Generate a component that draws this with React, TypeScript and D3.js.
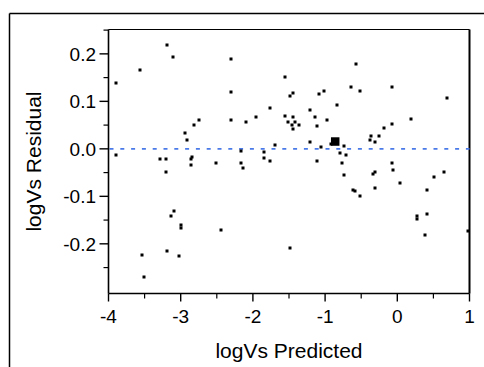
import React from "react";
import * as d3 from "d3";

const predicted = [
  -3.89, -3.89, -3.56, -3.19, -3.11, -3.29, -3.21, -3.21, -2.94, -2.91,
  -2.81, -2.74, -2.86, -2.84, -2.86, -2.51, -2.31, -2.31, -2.31, -2.16,
  -2.16, -2.14, -2.09, -1.96, -1.84, -1.84, -1.77, -1.77, -1.69, -1.56,
  -1.56, -1.44, -1.49, -1.44, -1.51, -1.46, -1.41, -1.36, -1.44, -1.21,
  -1.14, -1.09, -1.01, -1.11, -0.98, -1.21, -1.06, -0.84, -0.57, -0.64,
  -0.51, -0.08, 0.69, 0.19, -0.08, -0.19, -0.26, -0.36, -0.38, -0.31,
  -0.92, -0.74, -0.79, -0.71, -1.11, -0.76, -0.74, -0.08, -0.06, -0.34,
  -0.31, 0.51, 0.64, -0.62, -0.59, -0.51, -0.31, 0.04, 0.41, 0.27,
  0.27, 0.41, 0.39, 0.98, -1.49, -3.14, -3.09, -2.99, -2.99, -2.44,
  -3.54, -3.51, -3.19, -3.02,
];
const residual = [
  0.138, -0.012, 0.167, 0.219, 0.193, -0.022, -0.022, -0.048, 0.033, 0.019,
  0.051, 0.06, -0.021, -0.018, -0.034, -0.029, 0.189, 0.119, 0.06, -0.004,
  -0.029, -0.041, 0.056, 0.067, -0.007, -0.019, 0.085, -0.026, 0.008, 0.152,
  0.07, 0.118, 0.111, 0.067, 0.056, 0.051, 0.056, 0.051, 0.041, 0.081,
  0.067, 0.115, 0.122, 0.048, 0.06, 0.015, 0.003, 0.093, 0.178, 0.13,
  0.122, 0.13, 0.107, 0.063, 0.052, 0.044, 0.026, 0.026, 0.018, 0.015,
  0.01, 0.007, -0.008, -0.012, -0.026, -0.03, -0.056, -0.03, -0.045, -0.053,
  -0.049, -0.06, -0.049, -0.086, -0.089, -0.1, -0.082, -0.071, -0.086, -0.141,
  -0.148, -0.138, -0.182, -0.174, -0.208, -0.141, -0.13, -0.16, -0.166, -0.171,
  -0.223, -0.27, -0.215, -0.226,
];
// one heavier marker
const bigPredicted = [-0.86];
const bigResidual = [0.0154];

const xTicks = [-4, -3, -2, -1, 0, 1];
const xTickLabels = ["-4", "-3", "-2", "-1", "0", "1"];
const xMinorTicks = [-3.5, -2.5, -1.5, -0.5, 0.5];
const yTicks = [0.2, 0.1, 0.0, -0.1, -0.2];
const yTickLabels = ["0.2", "0.1", "0.0", "-0.1", "-0.2"];
const yMinorTicks = [0.25, 0.15, 0.05, -0.05, -0.15, -0.25];

const xTitle = "logVs Predicted";
const yTitle = "logVs Residual";

export default function App() {
  const W = 484;
  const H = 367;
  const left = 108.5;
  const right = 469.5;
  const top = 29.5;
  const bottom = 293.5;
  const x = d3.scaleLinear().domain([-4, 1]).range([left, right]);
  const y = d3.scaleLinear().domain([-0.3046, 0.2513]).range([bottom, top]);
  const font = "Arial, 'Liberation Sans', Helvetica, sans-serif";
  const pts = predicted.map((p, i) => ({ p, r: residual[i] }));

  return (
    <svg
      width={W}
      height={H}
      style={{ position: "absolute", left: 0, top: 0, display: "block", background: "#fff" }}
    >
      <rect x={0} y={0} width={W} height={H} fill="#fff" />
      {/* outer frame */}
      <line x1={9.5} y1={13.5} x2={W} y2={13.5} stroke="#000" strokeWidth={1.5} />
      <line x1={9.5} y1={13.5} x2={9.5} y2={H} stroke="#000" strokeWidth={1.5} />

      {/* plot frame */}
      <line x1={left} y1={top} x2={right} y2={top} stroke="#000" strokeWidth={1} />
      <line x1={right} y1={top} x2={right} y2={bottom} stroke="#000" strokeWidth={2} />

      {/* zero reference */}
      <line
        x1={left + 1}
        x2={right}
        y1={y(0)}
        y2={y(0)}
        stroke="#4a7ae8"
        strokeWidth={1.8}
        strokeDasharray="4 6.8"
      />

      {/* points */}
      {pts.map((d, i) => (
        <rect
          key={i}
          x={Math.round(x(d.p)) - 1.5}
          y={Math.round(y(d.r)) - 1.5}
          width={3}
          height={3}
          fill="#000"
        />
      ))}
      {bigPredicted.map((p, i) => (
        <rect
          key={"b" + i}
          x={x(p) - 4.25}
          y={y(bigResidual[i]) - 4.25}
          width={8.5}
          height={8.5}
          fill="#000"
        />
      ))}

      {/* axes */}
      <line x1={left} y1={top} x2={left} y2={bottom} stroke="#000" strokeWidth={1.6} />
      <line x1={left} y1={bottom} x2={right} y2={bottom} stroke="#000" strokeWidth={1.6} />

      {xTicks.map((t, i) => (
        <g key={"xt" + i}>
          <line x1={x(t)} x2={x(t)} y1={bottom} y2={bottom + 8} stroke="#000" strokeWidth={1.4} />
          <text
            x={x(t)}
            y={323}
            textAnchor="middle"
            fontFamily={font}
            fontSize={19}
            fill="#000"
          >
            {xTickLabels[i]}
          </text>
        </g>
      ))}
      {xMinorTicks.map((t, i) => (
        <line key={"xm" + i} x1={x(t)} x2={x(t)} y1={bottom} y2={bottom + 5} stroke="#000" strokeWidth={1.2} />
      ))}
      {yTicks.map((t, i) => (
        <g key={"yt" + i}>
          <line x1={left - 9} x2={left} y1={y(t)} y2={y(t)} stroke="#000" strokeWidth={1.4} />
          <text
            x={96}
            y={y(t) + 6.8}
            textAnchor="end"
            fontFamily={font}
            fontSize={19}
            fill="#000"
          >
            {yTickLabels[i]}
          </text>
        </g>
      ))}
      {yMinorTicks.map((t, i) => (
        <line key={"ym" + i} x1={left - 5} x2={left} y1={y(t)} y2={y(t)} stroke="#000" strokeWidth={1.2} />
      ))}

      {/* titles */}
      <text
        x={(left + right) / 2}
        y={358}
        textAnchor="middle"
        fontFamily={font}
        fontSize={21}
        fill="#000"
      >
        {xTitle}
      </text>
      <text
        transform={`translate(41, ${(top + bottom) / 2}) rotate(-90)`}
        textAnchor="middle"
        fontFamily={font}
        fontSize={21}
        fill="#000"
      >
        {yTitle}
      </text>
    </svg>
  );
}
